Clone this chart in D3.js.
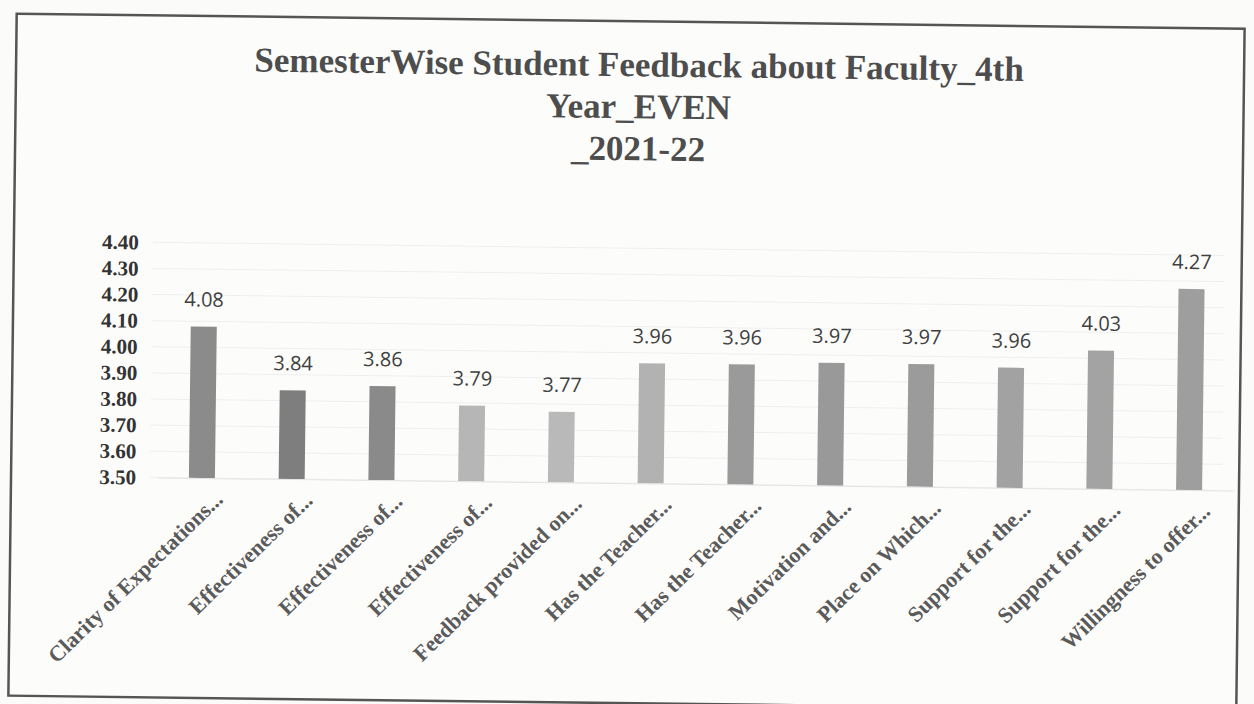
<!DOCTYPE html>
<html>
<head>
<meta charset="utf-8">
<script src="https://cdn.jsdelivr.net/npm/d3@7"></script>
<style>
  body { margin: 0; background: #fbfbfa; }
  svg { display: block; }
</style>
</head>
<body>
<div id="chart"></div>
<script>
// values
var categories = [
  'Clarity of Expectations...', 'Effectiveness of...', 'Effectiveness of...',
  'Effectiveness of...', 'Feedback provided on...', 'Has the Teacher...',
  'Has the Teacher...', 'Motivation and...', 'Place on Which...',
  'Support for the...', 'Support for the...', 'Willingness to offer...'
]
var scores = [4.08, 3.84, 3.86, 3.79, 3.77, 3.96, 3.96, 3.97, 3.97, 3.96, 4.03, 4.27]
var yTicks = [3.5, 3.6, 3.7, 3.8, 3.9, 4.0, 4.1, 4.2, 4.3, 4.4]
var titleLines = ['SemesterWise Student Feedback about Faculty_4th', 'Year_EVEN', '_2021-22']

var barShades = ['#8b8b8b', '#7e7e7e', '#8a8a8a', '#b6b6b6', '#b9b9b9', '#b2b2b2',
  '#9a9a9a', '#999999', '#9b9b9b', '#a2a2a2', '#a3a3a3', '#9e9e9e']

var width = 1254, height = 704
var plot = {left: 157, right: 1234, top: 249, bottom: 484}

var svg = d3.select('#chart').append('svg')
  .attr('width', width)
  .attr('height', height)

// the scanned page sits slightly tilted, so the whole chart is turned a little
var page = svg.append('g')
  .attr('transform', 'rotate(0.7,695,484)')

page.append('rect')
  .attr('x', 11).attr('y', 22)
  .attr('width', 1228).attr('height', 682)
  .attr('fill', '#fcfcfb')
  .attr('stroke', '#555').attr('stroke-width', 2.5)

var x = d3.scaleBand()
  .domain(d3.range(categories.length))
  .range([plot.left, plot.right])
  .paddingInner(0.71)
  .paddingOuter(0.355)

var y = d3.scaleLinear()
  .domain([3.5, 4.4])
  .range([plot.bottom, plot.top])

// title
page.append('g').selectAll('text')
  .data(titleLines)
  .enter().append('text')
  .attr('x', 634)
  .attr('y', function(d, i) { return 77 + i * 42 })
  .attr('text-anchor', 'middle')
  .attr('font-family', 'Liberation Serif, serif')
  .attr('font-weight', 'bold')
  .attr('font-size', 35)
  .attr('fill', '#4d4d4d')
  .text(function(d) { return d })

// gridlines
page.append('g')
  .selectAll('line')
  .data(yTicks)
  .enter().append('line')
  .attr('x1', 150).attr('x2', 1222)
  .attr('y1', function(d) { return y(d) })
  .attr('y2', function(d) { return y(d) })
  .attr('stroke', '#efefef')

// y axis
var yAxis = page.append('g')
  .attr('transform', 'translate(136,0)')
  .call(d3.axisLeft(y).tickValues(yTicks).tickSize(0).tickFormat(d3.format('.2f')))
yAxis.select('.domain').remove()
yAxis.selectAll('text')
  .attr('x', 0)
  .attr('font-family', 'Liberation Serif, serif')
  .attr('font-weight', 'bold')
  .attr('font-size', 21)
  .attr('fill', '#333')

// bars
page.append('g').selectAll('rect')
  .data(scores)
  .enter().append('rect')
  .attr('x', function(d, i) { return x(i) })
  .attr('y', function(d) { return y(d) })
  .attr('width', x.bandwidth())
  .attr('height', function(d) { return y(3.5) - y(d) })
  .attr('fill', function(d, i) { return barShades[i] })

// value labels
page.append('g').selectAll('text')
  .data(scores)
  .enter().append('text')
  .attr('x', function(d, i) { return x(i) + x.bandwidth() / 2 })
  .attr('y', function(d) { return y(d) - 20 })
  .attr('text-anchor', 'middle')
  .attr('font-family', 'Open Sans, sans-serif')
  .attr('font-size', 20)
  .attr('fill', '#404040')
  .text(function(d) { return d.toFixed(2) })

// x axis
var xAxis = page.append('g')
  .attr('transform', 'translate(0,' + plot.bottom + ')')
  .call(d3.axisBottom(x).tickSize(0).tickFormat(function(i) { return categories[i] }))
xAxis.select('.domain').attr('stroke', '#e4e4e4')
xAxis.selectAll('text')
  .attr('y', 0)
  .attr('font-family', 'Liberation Serif, serif')
  .attr('font-weight', 'bold')
  .attr('font-size', 22)
  .attr('fill', '#5a5a5a')
  .attr('text-anchor', 'end')
  .attr('dx', '0em')
  .attr('dy', '1.45em')
  .attr('transform', 'rotate(-45)')
</script>
</body>
</html>
